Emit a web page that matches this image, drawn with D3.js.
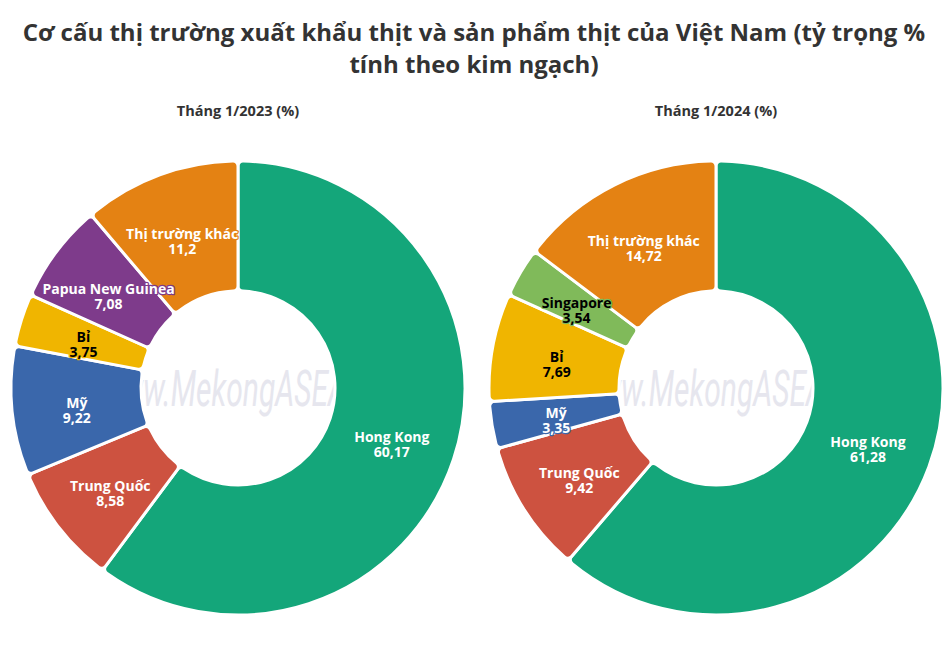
<!DOCTYPE html>
<html><head><meta charset="utf-8">
<script src="https://cdn.jsdelivr.net/npm/d3@7"></script>
<style>body{margin:0;background:#fff}svg{display:block}</style>
</head><body>
<script>
const titleLines = ["Cơ cấu thị trường xuất khẩu thịt và sản phẩm thịt của Việt Nam (tỷ trọng %", "tính theo kim ngạch)"];
const subtitles = ["Tháng 1/2023 (%)", "Tháng 1/2024 (%)"];
const cats2023 = ["Hong Kong", "Trung Quốc", "Mỹ", "Bỉ", "Papua New Guinea", "Thị trường khác"];
const vals2023 = [60.17, 8.58, 9.22, 3.75, 7.08, 11.2];
const cats2024 = ["Hong Kong", "Trung Quốc", "Mỹ", "Bỉ", "Singapore", "Thị trường khác"];
const vals2024 = [61.28, 9.42, 3.35, 7.69, 3.54, 14.72];
const colorMap = {"Hong Kong":"#14a67a","Trung Quốc":"#cd5240","Mỹ":"#3a67ab","Bỉ":"#f0b500","Papua New Guinea":"#7e3b8b","Singapore":"#80ba5a","Thị trường khác":"#e48213"};
const darkText = {"Bỉ":true,"Singapore":true};
const watermarkPre = "ww", watermarkRest = "w.MekongASEAN.vn";

const W = 948, H = 670;
const svg = d3.select("body").append("svg").attr("width", W).attr("height", H);
const FONT = "'Open Sans', 'Noto Sans', sans-serif";

svg.append("g").selectAll("text").data(titleLines).join("text")
  .attr("x", W/2).attr("y", (d,i)=>41 + i*32)
  .attr("text-anchor","middle")
  .style("font-family",FONT).style("font-weight","700")
  .style("font-size","24px").attr("fill","#333")
  .text(d=>d);

const fmt = v => String(v).replace(".", ",");
const R = 227, r0 = 97;
const pie = d3.pie().sort(null).value(d=>d.v);
const arc = d3.arc().innerRadius(r0).outerRadius(R).cornerRadius(5);
const labelArc = d3.arc().innerRadius(r0).outerRadius(R);

const charts = [
  {cx:238, cy:388, cats:cats2023, vals:vals2023, sub:subtitles[0]},
  {cx:716, cy:388, cats:cats2024, vals:vals2024, sub:subtitles[1]}
];

charts.forEach((c, ci) => {
  svg.append("text").attr("x", c.cx).attr("y", 116).attr("text-anchor","middle")
    .style("font-family",FONT).style("font-weight","700")
    .style("font-size","14.5px").attr("fill","#333").text(c.sub);
  const g = svg.append("g").attr("transform", `translate(${c.cx},${c.cy})`);
  const clipId = "clip"+ci;
  g.append("clipPath").attr("id", clipId).append("circle").attr("r", r0);
  const sx = 0.6;
  const wg = g.append("g").attr("clip-path", `url(#${clipId})`).append("g").attr("transform", `scale(${sx},1)`);
  const wm = wg.append("text").attr("y", 18)
    .style("font-family","Roboto, sans-serif").style("font-style","italic")
    .style("font-size","50px").attr("fill","#e6e6ee").text(watermarkPre);
  const preW = wm.node().getComputedTextLength();
  wm.text(watermarkPre + watermarkRest).attr("x", -95/sx - preW);
  const data = c.cats.map((k,i)=>({k, v:c.vals[i]}));
  const arcs = pie(data);
  g.selectAll("path").data(arcs).join("path")
    .attr("d", arc).attr("fill", d=>colorMap[d.data.k])
    .attr("stroke","#fff").attr("stroke-width",3).attr("stroke-linejoin","round");
  const lg = g.selectAll("g.lbl").data(arcs).join("g").attr("class","lbl")
    .attr("transform", d=>`translate(${labelArc.centroid(d)})`);
  [0,1].forEach(line => {
    lg.append("text").attr("text-anchor","middle").attr("y", line ? 18 : 3)
      .style("font-family",FONT).style("font-weight","700")
      .style("font-size","14px")
      .attr("fill", d=>darkText[d.data.k] ? "#000" : "#fff")
      .attr("stroke", d=>colorMap[d.data.k]).attr("stroke-width",2.5)
      .attr("stroke-linejoin","round").style("paint-order","stroke")
      .text(d=> line ? fmt(d.data.v) : d.data.k);
  });
});
</script>
</body></html>
